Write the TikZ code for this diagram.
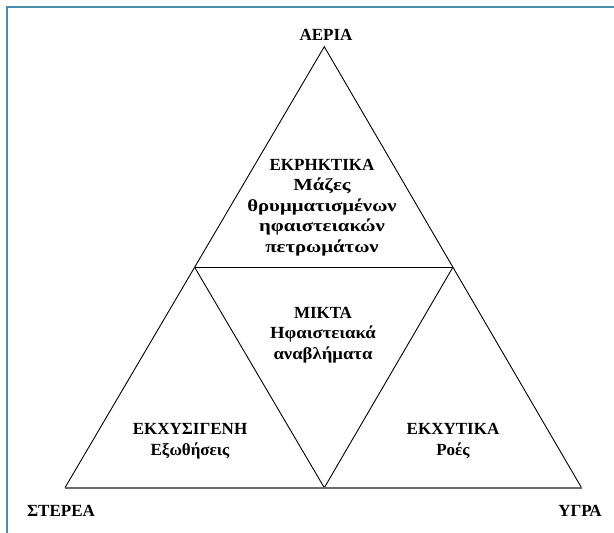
\documentclass[tikz,border=0pt]{standalone}
\usepackage{fontspec}
\setmainfont{Liberation Serif}
\newfontfamily\widea{Liberation Serif}[FakeStretch=1.22]
\newfontfamily\wideb{Liberation Serif}[FakeStretch=1.1]
\begin{document}
\begin{tikzpicture}[x=1pt,y=-1pt,
  lbl/.style={font=\bfseries\fontsize{17}{20.5}\selectfont, align=center, inner sep=0pt, text=black},
  side/.style={draw=black, line width=0.9pt},
  base/.style={draw=black!58, line width=1.8pt},
  frame/.style={draw={rgb,255:red,74;green,143;blue,168}, line width=2pt}]
\useasboundingbox (0,0) rectangle (614,533);
% frame (top and left only)
\coordinate (f1) at (7.3,533);
\coordinate (f2) at (7.3,6.7);
\coordinate (f3) at (614,6.7);
\draw[frame] (f1) -- (f2) -- (f3);
% triangle vertices
\coordinate (A) at (324.3,46.7);
\coordinate (L) at (65,487.7);
\coordinate (R) at (581.5,487.7);
\coordinate (M) at (324.3,487.7);
\coordinate (ML) at (194.6,267.2);
\coordinate (MR) at (452.9,267.2);
% sides
\draw[side] (L) -- (A) -- (R);
\draw[side] (ML) -- (MR);
\draw[side] (ML) -- (M) -- (MR);
\draw[base] (L) -- (R);
% labels
\node[lbl] (aer) at (326,35) {ΑΕΡΙΑ};
\node[lbl] (ster) at (61,511) {ΣΤΕΡΕΑ};
\node[lbl] (ygr) at (580,511) {ΥΓΡΑ};
\node[lbl] (ekr) at (322,207.5) {ΕΚΡΗΚΤΙΚΑ\\{\widea\bfseries Μάζες}\\{\widea\bfseries θρυμματισμένων}\\{\widea\bfseries ηφαιστειακών}\\{\widea\bfseries πετρωμάτων}};
\node[lbl] (mik) at (323,335) {ΜΙΚΤΑ\\{\wideb\bfseries Ηφαιστειακά}\\{\wideb\bfseries αναβλήματα}};
\node[lbl] (ekxs) at (190,441) {ΕΚΧΥΣΙΓΕΝΗ\\Εξωθήσεις};
\node[lbl] (ekxt) at (453,441) {ΕΚΧΥΤΙΚΑ\\Ροές};
\end{tikzpicture}
\end{document}
